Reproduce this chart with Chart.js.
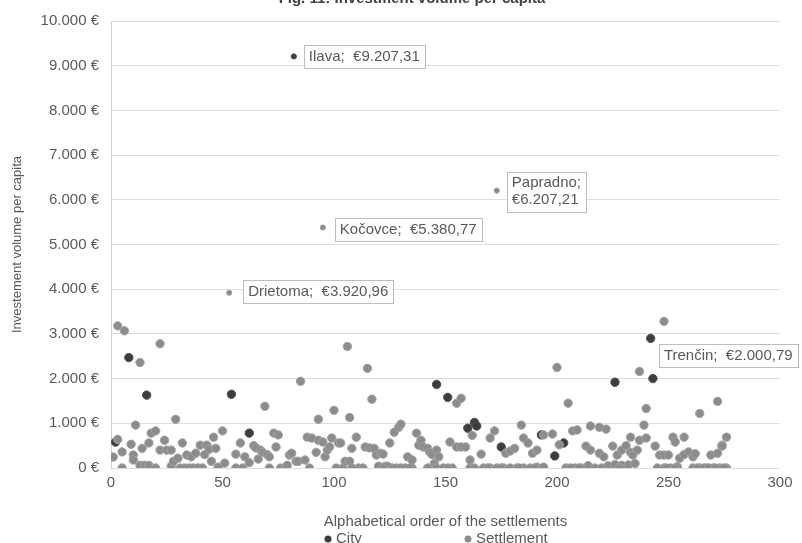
<!DOCTYPE html>
<html>
<head>
<meta charset="utf-8">
<script src="https://cdn.jsdelivr.net/npm/chart.js@4"></script>
<style>
    html, body { margin: 0; padding: 0; background: #fff; }
    #wrap { width: 802px; height: 543px; position: relative; }
</style>
</head>
<body>
<div id="wrap"><canvas id="chart"></canvas></div>
<script>
// --- 1. data ---
const xTicks = [0, 50, 100, 150, 200, 250, 300];
const yTicks = [0, 1000, 2000, 3000, 4000, 5000, 6000, 7000, 8000, 9000, 10000];

const cityX = [2, 8, 16, 54, 62, 82, 146, 151, 160, 163, 164, 175, 193, 199, 203, 226, 242, 243];
const cityY = [580, 2470, 1630, 1650, 780, 9207.31, 1870, 1580, 890, 1020, 940, 470, 740, 270, 560, 1920, 2900, 2000.79];

const settlementX = [
    1, 3, 3, 5, 5, 6, 9, 10, 10, 11, 13, 13, 14, 15, 17, 17, 18, 20, 20, 22,
    22, 24, 25, 27, 27, 28, 29, 30, 31, 32, 33, 34, 35, 36, 37, 38, 39, 40, 41, 42,
    43, 44, 46, 47, 48, 50, 51, 53, 56, 56, 58, 59, 60, 64, 65, 67, 68, 69, 70, 71,
    71, 73, 74, 75, 76, 78, 80, 81, 83, 84, 85, 87, 88, 89, 90, 93, 93, 95, 95, 96,
    97, 98, 99, 100, 101, 102, 103, 104, 105, 106, 107, 107, 108, 110, 111, 114, 115, 116, 117, 118,
    119, 120, 121, 122, 123, 124, 125, 126, 127, 128, 129, 130, 130, 132, 133, 135, 135, 137, 138, 139,
    140, 142, 142, 143, 144, 145, 146, 146, 147, 149, 152, 153, 155, 155, 157, 157, 159, 161, 161, 162,
    166, 167, 170, 170, 172, 173, 173, 176, 177, 179, 179, 181, 182, 184, 185, 185, 187, 188, 189, 191,
    191, 194, 194, 198, 200, 201, 204, 205, 207, 208, 209, 211, 213, 214, 215, 215, 219, 219, 221, 222,
    223, 225, 226, 227, 229, 229, 231, 232, 233, 233, 234, 235, 236, 237, 237, 239, 240, 240, 244, 245,
    246, 248, 248, 248, 250, 251, 252, 253, 254, 255, 257, 257, 259, 261, 261, 262, 264, 264, 267, 269,
    270, 272, 272, 273, 274, 274, 276, 276,
    108, 113, 122, 134, 151, 163, 169, 175, 183, 190, 206, 210, 217, 220, 228, 249, 253, 263, 266, 268,
    271, 275, 45, 62, 66, 79, 92
];
const settlementY = [
    245, 640, 3180, 0, 360, 3070, 530, 290, 180, 960, 2360, 60, 440, 60, 60, 560, 780, 830, 0, 2780,
    400, 620, 400, 40, 400, 150, 1090, 220, 0, 560, 0, 290, 0, 250, 0, 330, 0, 510, 0, 300,
    510, 420, 690, 440, 20, 830, 110, 3920.96, 310, 0, 560, 0, 250, 500, 450, 400, 350, 1380, 300, 250,
    0, 780, 470, 740, 0, 0, 290, 330, 150, 150, 1940, 180, 690, 0, 670, 620, 1090, 580, 5380.77, 250,
    400, 470, 670, 1290, 0, 560, 560, 0, 150, 2720, 150, 1130, 440, 690, 0, 470, 2230, 450, 1540, 440,
    290, 40, 330, 310, 40, 40, 560, 0, 800, 0, 910, 980, 0, 0, 250, 0, 180, 780, 510, 620,
    470, 440, 0, 350, 300, 100, 400, 0, 250, 0, 580, 0, 470, 1450, 470, 1560, 470, 0, 180, 730,
    310, 0, 0, 670, 830, 6207.21, 0, 0, 330, 380, 0, 440, 0, 960, 670, 0, 560, 0, 330, 400,
    20, 20, 740, 760, 2250, 520, 0, 1450, 830, 0, 850, 0, 490, 50, 400, 940, 330, 910, 250, 870,
    50, 490, 80, 290, 400, 60, 500, 70, 350, 690, 290, 100, 400, 2160, 620, 960, 1330, 670, 490, 0,
    290, 3280, 290, 0, 290, 0, 690, 580, 30, 220, 690, 300, 360, 250, 0, 320, 1220, 0, 0, 290,
    0, 1490, 330, 0, 510, 490, 690, 0,
    0, 0, 0, 0, 0, 0, 0, 0, 0, 0, 0, 0, 0, 0, 0, 0, 0, 0, 0, 0,
    0, 0, 150, 120, 200, 60, 350
];

// labelled outliers
const calloutNames = ['Ilava', 'Drietoma', 'Kočovce', 'Papradno', 'Trenčin'];
const calloutX = [82, 53, 95, 173, 243];
const calloutY = [9207.31, 3920.96, 5380.77, 6207.21, 2000.79];

// --- 2. styles ---
const FONT = '"Liberation Sans", Arial, sans-serif';
const TEXT = '#595959';
const CITY = '#3d3d3d';
const SETTLEMENT = '#8c8c8c';
// box placement next to each labelled point: [dx, dy, two lines, small dot]
const calloutPlace = [[10, 0, false, true], [14, -1, false, true], [12, 2, false, true], [10, 1, true, true], [6, -23, false, false]];

function dotted(n) {
    return String(n).replace(/\B(?=(\d{3})+(?!\d))/g, '.');
}
function euro(v) {
    const parts = v.toFixed(2).split('.');
    return '€' + dotted(parts[0]) + ',' + parts[1];
}
function smallDot(p) {
    for (let i = 0; i < calloutX.length; i++) {
        if (p && p.x === calloutX[i] && p.y === calloutY[i]) return calloutPlace[i][3];
    }
    return false;
}

const toPoints = (xs, ys) => xs.map((x, i) => ({ x: x, y: ys[i] }));

// --- 3. callouts, title and legend ---
const extrasPlugin = {
    id: 'extras',
    afterDatasetsDraw(chart) {
        const ctx = chart.ctx;
        const xs = chart.scales.x, ys = chart.scales.y;
        ctx.save();
        ctx.font = '15px ' + FONT;
        ctx.textBaseline = 'middle';
        calloutNames.forEach((name, i) => {
            const px = xs.getPixelForValue(calloutX[i]);
            const py = ys.getPixelForValue(calloutY[i]);
            const place = calloutPlace[i];
            const lines = place[2] ? [name + ';', euro(calloutY[i])] : [name + ';  ' + euro(calloutY[i])];
            const w = Math.max(...lines.map(l => ctx.measureText(l).width)) + 10;
            const h = lines.length * 17 + 6;
            const bx = px + place[0];
            const by = py + place[1] - h / 2;
            ctx.fillStyle = '#fff';
            ctx.fillRect(bx, by, w, h);
            ctx.strokeStyle = '#bdbdbd';
            ctx.lineWidth = 1;
            ctx.strokeRect(Math.round(bx) + 0.5, Math.round(by) + 0.5, Math.round(w), Math.round(h));
            ctx.fillStyle = TEXT;
            lines.forEach((l, k) => ctx.fillText(l, bx + 5, by + 3 + 8.5 + k * 17));
        });

        // chart title, partly cut off at the top edge
        ctx.font = 'bold 15px ' + FONT;
        ctx.textAlign = 'center';
        ctx.fillStyle = '#404040';
        ctx.fillText('Fig. 11: Investment volume per capita', 412, -1.5);

        // legend (cut off at the bottom edge)
        ctx.font = '15px ' + FONT;
        ctx.textAlign = 'left';
        const items = [['City', CITY, 328], ['Settlement', SETTLEMENT, 468]];
        items.forEach(it => {
            ctx.fillStyle = it[1];
            ctx.beginPath();
            ctx.arc(it[2], 539, 3.5, 0, Math.PI * 2);
            ctx.fill();
            ctx.fillStyle = TEXT;
            ctx.fillText(it[0], it[2] + 8, 539);
        });
        ctx.restore();
    }
};

// --- 4. chart ---
const pointSize = c => smallDot(c.raw) ? 2.6 : 4.2;

new Chart(document.getElementById('chart'), {
    type: 'scatter',
    data: {
        datasets: [
            {
                label: 'Settlement',
                data: toPoints(settlementX, settlementY),
                backgroundColor: SETTLEMENT,
                borderColor: '#a2a2a2',
                borderWidth: 1,
                pointRadius: pointSize
            },
            {
                label: 'City',
                data: toPoints(cityX, cityY),
                backgroundColor: CITY,
                borderColor: '#505050',
                borderWidth: 1,
                pointRadius: pointSize
            }
        ]
    },
    options: {
        responsive: true,
        maintainAspectRatio: false,
        animation: false,
        layout: { padding: { left: 0, right: 22, top: 19, bottom: 0 } },
        plugins: {
            legend: { display: false },
            tooltip: { enabled: false }
        },
        scales: {
            x: {
                type: 'linear',
                min: xTicks[0],
                max: xTicks[xTicks.length - 1],
                afterBuildTicks: axis => { axis.ticks = xTicks.map(v => ({ value: v })); },
                afterFit: axis => { axis.height = 75; },
                grid: { display: false, drawTicks: false },
                border: { display: false },
                ticks: { color: TEXT, font: { family: FONT, size: 15 }, padding: 6 },
                title: {
                    display: true,
                    text: 'Alphabetical order of the settlements',
                    color: TEXT,
                    font: { family: FONT, size: 15 },
                    padding: { top: 0, bottom: 12 }
                }
            },
            y: {
                min: yTicks[0],
                max: yTicks[yTicks.length - 1],
                afterBuildTicks: axis => { axis.ticks = yTicks.map(v => ({ value: v })); },
                afterFit: axis => { axis.width = 111; },
                grid: { color: '#dedede', drawTicks: false },
                border: { display: true, color: '#d0d0d0' },
                ticks: {
                    color: TEXT,
                    font: { family: FONT, size: 15 },
                    padding: 12,
                    callback: v => dotted(v) + ' €'
                },
                title: {
                    display: true,
                    text: 'Investement volume per capita',
                    color: TEXT,
                    font: { family: FONT, size: 13 },
                    padding: { top: 10, bottom: 0 }
                }
            }
        }
    },
    plugins: [extrasPlugin]
});
</script>
</body>
</html>
